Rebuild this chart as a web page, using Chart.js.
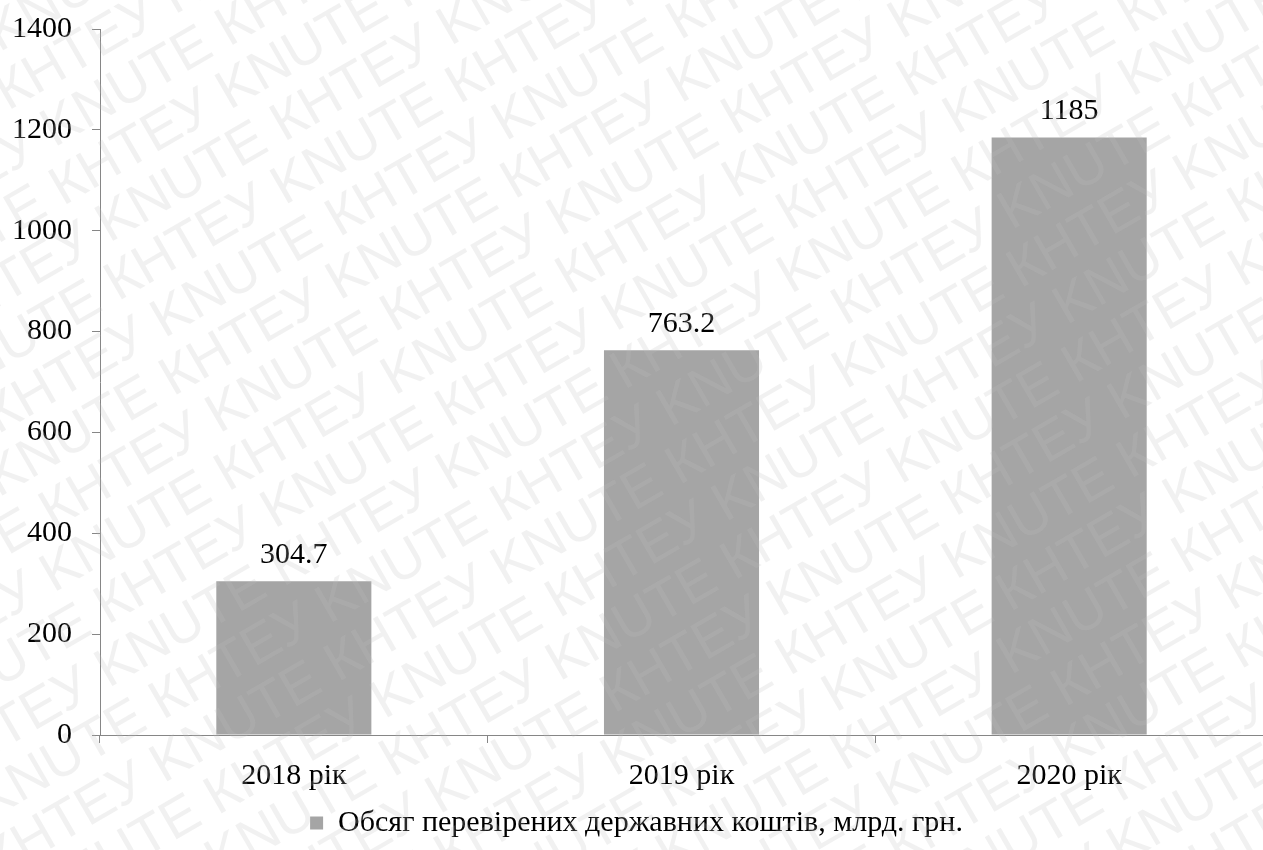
<!DOCTYPE html>
<html>
<head>
<meta charset="utf-8">
<script src="https://cdn.jsdelivr.net/npm/chart.js@4/dist/chart.umd.min.js"></script>
<style>
  html, body { margin: 0; padding: 0; background: #ffffff; overflow: hidden; }
  #wrap { width: 1263px; height: 850px; }
</style>
</head>
<body>
<div id="wrap"><canvas id="chart" width="1263" height="850"></canvas></div>
<script>
// Chart data
const categories = ['2018 рік', '2019 рік', '2020 рік'];
const seriesValues = [304.7, 763.2, 1185];
const seriesName = 'Обсяг перевірених державних коштів, млрд. грн.';
const yTicks = [0, 200, 400, 600, 800, 1000, 1200, 1400];

const SERIF = '"Liberation Serif", "Times New Roman", serif';
const AXIS_COLOR = '#868686';
const BAR_COLOR = '#a5a5a5';

// Value labels above each bar
const valueLabels = {
  id: 'valueLabels',
  afterDatasetsDraw(chart) {
    const ctx = chart.ctx;
    const meta = chart.getDatasetMeta(0);
    ctx.save();
    ctx.font = '30px ' + SERIF;
    ctx.fillStyle = '#000000';
    ctx.textAlign = 'center';
    ctx.textBaseline = 'alphabetic';
    meta.data.forEach((bar, i) => {
      ctx.fillText(String(chart.data.datasets[0].data[i]), bar.x, bar.y - 18);
    });
    ctx.restore();
  }
};

// Diagonal repeated institution mark across the whole canvas
const stamp = {
  id: 'stamp',
  afterDraw(chart) {
    const ctx = chart.ctx;
    ctx.save();
    ctx.font = '55px "Liberation Sans", Arial, sans-serif';
    ctx.fillStyle = 'rgba(190,190,190,0.22)';
    ctx.translate(222, 97);
    ctx.rotate(-30 * Math.PI / 180);
    const a = 'KNUTE ';
    const b = 'КНТЕУ ';
    const wa = ctx.measureText(a).width;
    const wb = ctx.measureText(b).width;
    const period = wa + wb;
    const rowGap = 55;
    for (let k = -30; k <= 30; k++) {
      const y = k * rowGap;
      const odd = Math.abs(k) % 2 === 1;
      const first = odd ? b : a;
      const second = odd ? a : b;
      const wFirst = odd ? wb : wa;
      let start = odd ? 31 : 0;
      start = start - Math.ceil(2400 / period) * period;
      for (let x = start; x < 2400; x += period) {
        ctx.fillText(first, x, y);
        ctx.fillText(second, x + wFirst, y);
      }
    }
    ctx.restore();
  }
};

new Chart(document.getElementById('chart'), {
  type: 'bar',
  data: {
    labels: categories,
    datasets: [{
      label: seriesName,
      data: seriesValues,
      backgroundColor: BAR_COLOR,
      borderWidth: 0,
      categoryPercentage: 1.0,
      barPercentage: 0.4
    }]
  },
  options: {
    responsive: false,
    animation: false,
    events: [],
    layout: { padding: { top: 29, right: -10, bottom: 2, left: 0 } },
    plugins: {
      tooltip: { enabled: false },
      legend: {
        display: true,
        position: 'bottom',
        labels: {
          color: '#000000',
          font: { family: SERIF, size: 30 },
          boxWidth: 13,
          boxHeight: 13,
          padding: 6
        }
      }
    },
    scales: {
      x: {
        afterFit(scale) { scale.height = 67; },
        grid: {
          display: true,
          drawOnChartArea: false,
          drawTicks: true,
          tickLength: 8,
          color: AXIS_COLOR,
          offset: true
        },
        border: { display: true, color: AXIS_COLOR, width: 1 },
        ticks: {
          color: '#000000',
          font: { family: SERIF, size: 30 },
          padding: 15
        }
      },
      y: {
        min: 0,
        max: 1400,
        afterFit(scale) {
          scale.width = 100;
          scale.paddingTop = 0;
          scale.paddingBottom = 0;
        },
        afterBuildTicks(scale) { scale.ticks = yTicks.map(v => ({ value: v })); },
        grid: {
          display: true,
          drawOnChartArea: false,
          drawTicks: true,
          tickLength: 8,
          color: AXIS_COLOR
        },
        border: { display: true, color: AXIS_COLOR, width: 1 },
        ticks: {
          color: '#000000',
          font: { family: SERIF, size: 30 },
          padding: 20,
          callback: v => String(v)
        }
      }
    }
  },
  plugins: [valueLabels, stamp]
});
</script>
</body>
</html>
